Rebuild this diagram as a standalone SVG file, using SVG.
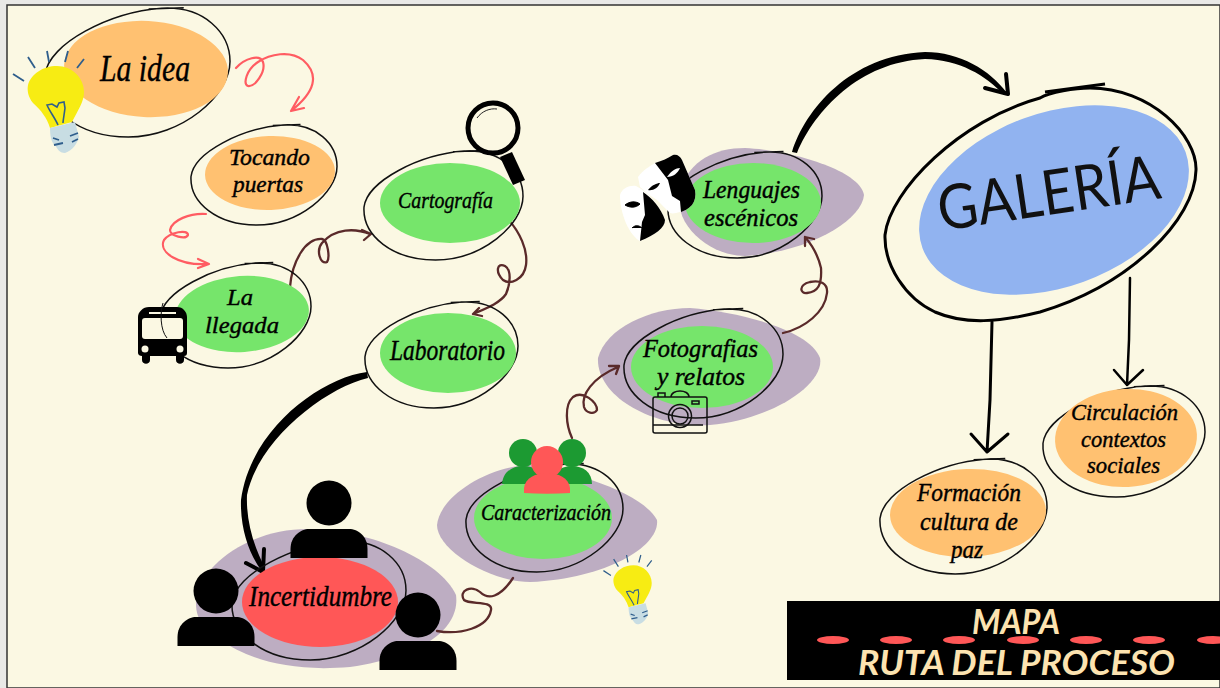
<svg xmlns="http://www.w3.org/2000/svg" width="1220" height="688" viewBox="0 0 1220 688">
<style>
.lbl{font-family:"Liberation Serif","DejaVu Serif",serif;font-style:italic;fill:#000;stroke:#000;stroke-width:.4}
.ban{font-family:"Lato","Liberation Sans",sans-serif;font-style:italic;font-weight:700;fill:#FCE3B0}
.out{fill:none;stroke:#111;stroke-width:1.5}
.pur{fill:#BDADC2}.grn{fill:#76E56B}.org{fill:#FFC171}.red{fill:#FF5757}
.pink{fill:none;stroke:#FF5C62;stroke-width:2.2;stroke-linecap:round;stroke-linejoin:round}
.brn{fill:none;stroke:#5A2A2A;stroke-width:2.3;stroke-linecap:round;stroke-linejoin:round}
.blk{fill:none;stroke:#000;stroke-linecap:round;stroke-linejoin:round}
</style>
<defs>
<path id="loop" vector-effect="non-scaling-stroke" d="M0 52C2 28 35 4 63 1C86 -1 100 20 100 42C100 68 74 100 45 100C18 100 -1 78 0 52ZM56 1.500L75 .5"/>
<g id="bulb">
<path d="M2 -60C17 -60 29 -48 29 -34C29 -24 23 -16 17 -4L-5 2C-8 -8 -14 -16 -22 -23C-27 -29 -28 -36 -27 -41C-24 -52 -12 -60 2 -60Z" fill="#F7EC13"/>
<path d="M-5 2L20 -4L24 11C22 18 18 24 10 27C4 27 2 22 0 19C-4 17 -5 8 -5 2Z" fill="#C8DDE3"/>
<path d="M3 -1C0 -8 -5 -14 -8 -21L-3 -22L2 -19L4 -23L9 -24L10 -18C9 -10 8 -5 8 -3" fill="none" stroke="#2F5E8C" stroke-width="1.600"/>
<path d="M-42 -52L-31 -45M-27 -69L-20 -58M-8 -75L-6 -64M13 -75L10 -64M29 -67L22 -58M-2 12L4 14M-1 19L8 17M15 10L23 7M17 16L23 13" fill="none" stroke="#2F5E8C" stroke-width="1.800"/>
</g>
<g id="person"><circle cx="0" cy="0" r="22.500"/><path d="M-38.500 55V46C-38.500 33 -28 26 -20 26H20C29 26 38.500 33 38.500 46V55Z"/></g>
</defs>

<rect width="1220" height="688" fill="#E9E9E7"/>
<rect x="7" y="5" width="1213" height="683" fill="#FBF8E3" stroke="#333" stroke-width="1.500"/>

<g id="blobs-back">
<path class="pur" d="M196 600C200 565 250 528 310 529C370 530 440 560 456 595C460 625 430 655 350 667C290 672 250 660 220 640C205 630 195 620 196 600Z"/>
<path class="pur" d="M437 525C440 495 490 466 530 465C570 472 640 490 657 520C660 545 610 578 530 582C490 582 437 550 437 525Z"/>
<path class="pur" d="M598 358C606 328 650 308 690 308C740 312 810 330 820 358C825 385 770 420 710 425C650 428 596 395 598 358Z"/>
<path class="pur" d="M680 190C690 160 715 148 745 148C790 150 860 170 864 195C862 220 810 252 745 256C710 256 672 225 680 190Z"/>
</g>

<g id="connectors">
<path class="pink" d="M236 68C245 58 260 54 263 62C266 72 255 87 248 86C243 84 246 70 258 62C270 54 290 50 303 60C320 75 315 92 291 111M299 97L291 111L304 108"/>
<path class="pink" d="M206 214C190 213 172 220 170 230C170 236 186 240 188 235C188 229 170 232 164 240C158 252 178 266 209 264M198 259L209 264L198 268"/>
<path class="brn" d="M290 287C292 262 305 238 322 239C328 240 330 258 327 262C320 265 316 250 322 243C335 228 355 228 370 234M362 230L371 234L364 240"/>
<path class="brn" d="M507 218C520 232 528 250 526 265C524 280 510 285 503 280C495 272 497 262 505 266C512 270 510 285 506 294C500 303 487 308 473 314M479 308L473 314L482 316"/>
<path class="brn" d="M437 631C460 635 488 628 491 610C493 600 470 605 464 600C458 590 472 585 480 592C488 600 500 598 513 578"/>
<path class="brn" d="M572 438C566 425 564 405 573 397C583 390 597 402 597 410C594 415 586 413 584 407C581 395 592 378 618 367M609 366L619 366L616 374"/>
<path class="brn" d="M783 333C805 328 825 312 827 293C828 283 820 280 810 282C798 285 800 294 807 293C818 292 822 285 821 268C818 255 812 245 805 237M805 246L805 237L814 239"/>
<path d="M367 372C320 378 250 430 241 500C240 530 250 555 261 570L265 568C253 545 246 520 247 495C258 440 325 388 368 378Z"/>
<path class="blk" stroke-width="4" d="M246 563L263 572L264 549"/>
<path d="M792 152C805 110 850 55 925 52C960 52 990 70 1007 93L1004 95C985 75 960 60 925 59C860 62 815 110 797 153Z"/>
<path class="blk" stroke-width="4" d="M985 88L1008 94L1006 74"/>
<path class="blk" stroke-width="3" d="M992 322L990 400L987 452M971 434L987 452L1008 434"/>
<path class="blk" stroke-width="2.500" d="M1130 278L1129 340L1127 385M1114 370L1127 385L1143 370"/>
</g>

<g id="la-idea"><use href="#loop" class="out" transform="translate(45 7) scale(1.850 1.300)"/><ellipse class="org" cx="146" cy="69" rx="82" ry="48" transform="rotate(3 146 69)"/>
<text class="lbl" x="100" y="81" font-size="38" textLength="90" lengthAdjust="spacingAndGlyphs">La idea</text></g>
<g id="tocando-puertas"><use href="#loop" class="out" transform="translate(191 124) scale(1.460 1.010)"/><ellipse class="org" cx="270" cy="173" rx="65" ry="37" transform="rotate(-2 270 173)"/>
<text class="lbl" x="229" y="165" font-size="23" textLength="81" lengthAdjust="spacingAndGlyphs">Tocando</text><text class="lbl" x="233" y="192" font-size="23" textLength="70" lengthAdjust="spacingAndGlyphs">puertas</text></g>
<g id="la-llegada"><use href="#loop" class="out" transform="translate(160 262) scale(1.510 1.060)"/><ellipse class="grn" cx="242" cy="314" rx="67" ry="38" transform="rotate(-4 242 314)"/>
<text class="lbl" x="227" y="305" font-size="24" textLength="26" lengthAdjust="spacingAndGlyphs">La</text><text class="lbl" x="205" y="333" font-size="24" textLength="74" lengthAdjust="spacingAndGlyphs">llegada</text></g>
<g id="cartografia"><use href="#loop" class="out" transform="translate(364 150) scale(1.590 1.100)"/><ellipse class="grn" cx="450" cy="203" rx="70" ry="40"/>
<text class="lbl" x="398" y="208" font-size="24" textLength="95" lengthAdjust="spacingAndGlyphs">Cartografía</text></g>
<g id="laboratorio"><use href="#loop" class="out" transform="translate(365 301) scale(1.530 1.070)"/><ellipse class="grn" cx="448" cy="353" rx="68" ry="40"/>
<text class="lbl" x="390" y="360" font-size="29" textLength="115" lengthAdjust="spacingAndGlyphs">Laboratorio</text></g>
<g id="incertidumbre"><use href="#loop" class="out" transform="translate(232 540) scale(1.740 1.200)"/><ellipse class="red" cx="320" cy="602" rx="78" ry="45"/>
<text class="lbl" x="249" y="606" font-size="30" textLength="143" lengthAdjust="spacingAndGlyphs">Incertidumbre</text></g>
<g id="caracterizacion"><use href="#loop" class="out" transform="translate(466 463) scale(1.570 1.090)"/><ellipse class="grn" cx="543" cy="518" rx="69" ry="41"/>
<text class="lbl" x="481" y="520" font-size="24" textLength="130" lengthAdjust="spacingAndGlyphs">Caracterización</text></g>
<g id="fotografias"><ellipse class="grn" cx="702" cy="367" rx="71" ry="41"/><use href="#loop" class="out" transform="translate(624 308) scale(1.590 1.100)"/>
<text class="lbl" x="643" y="357" font-size="25" textLength="115" lengthAdjust="spacingAndGlyphs">Fotografias</text><text class="lbl" x="657" y="385" font-size="25" textLength="88" lengthAdjust="spacingAndGlyphs">y relatos</text></g>
<g id="lenguajes"><use href="#loop" class="out" transform="translate(668 151) scale(1.540 1.070)"/><ellipse class="grn" cx="753" cy="203" rx="68" ry="40"/>
<text class="lbl" x="703" y="198" font-size="24.500" textLength="97" lengthAdjust="spacingAndGlyphs">Lenguajes</text><text class="lbl" x="704" y="226" font-size="24.500" textLength="94" lengthAdjust="spacingAndGlyphs">escénicos</text></g>
<g id="galeria"><path d="M885 235C890 190 960 120 1040 98C1050 92 1075 88 1090 88C1150 88 1197 135 1196 170C1195 220 1130 285 1040 312C1000 322 965 325 935 312C905 298 884 265 885 235Z" fill="none" stroke="#000" stroke-width="3"/><path d="M1045 92L1105 84" fill="none" stroke="#000" stroke-width="3"/>
<ellipse cx="1054" cy="200" rx="140" ry="87" fill="#91B3F0" transform="rotate(-20 1054 200)"/>
<text x="941" y="231" font-family="Lato,'Liberation Sans',sans-serif" font-size="62" fill="#111" textLength="224" lengthAdjust="spacingAndGlyphs" transform="rotate(-8.500 941 231)">GALERÍA</text></g>
<g id="formacion"><use href="#loop" class="out" transform="translate(880 458) scale(1.670 1.160)"/><ellipse class="org" cx="968" cy="513" rx="78" ry="44" transform="rotate(-2 968 513)"/>
<text class="lbl" x="917" y="501" font-size="24.500" textLength="104" lengthAdjust="spacingAndGlyphs">Formación</text><text class="lbl" x="920" y="530" font-size="24.500" textLength="98" lengthAdjust="spacingAndGlyphs">cultura de</text><text class="lbl" x="951" y="558" font-size="24.500" textLength="32" lengthAdjust="spacingAndGlyphs">paz</text></g>
<g id="circulacion"><use href="#loop" class="out" transform="translate(1043 385) scale(1.620 1.120)"/><ellipse class="org" cx="1126" cy="438" rx="71" ry="49" transform="rotate(-3 1126 438)"/>
<text class="lbl" x="1071" y="420" font-size="23" textLength="107" lengthAdjust="spacingAndGlyphs">Circulación</text><text class="lbl" x="1081" y="447" font-size="23" textLength="85" lengthAdjust="spacingAndGlyphs">contextos</text><text class="lbl" x="1087" y="473" font-size="23" textLength="73" lengthAdjust="spacingAndGlyphs">sociales</text></g>

<g id="icons">
<use href="#bulb" transform="translate(55 126)"/>
<use href="#bulb" transform="translate(632 606) scale(.68)"/>
<g id="bus"><path d="M149 307H177C183 307 187 312 187 317V353C187 355 186 356 184 356V360C184 365 176 365 176 360V356H150V360C150 365 142 365 142 360V356C140 356 138 355 138 353V317C138 312 143 307 149 307Z"/>
<rect x="142" y="318" width="41" height="21" rx="3" fill="#FBF8E3"/><path d="M149 313H176" stroke="#FBF8E3" stroke-width="2"/>
<circle cx="145" cy="349" r="3.500" fill="#FBF8E3"/><circle cx="180" cy="349" r="3.500" fill="#FBF8E3"/>
<path d="M163 303C160 312 160 330 167 338" fill="none" stroke="#111" stroke-width="1"/></g>
<g id="lupa"><circle cx="493" cy="128" r="25" fill="#FBF8E3" stroke="#000" stroke-width="5"/><path d="M500 157L512 152L525 180L513 185Z"/><path d="M477 118C482 111 490 108 497 109" fill="none" stroke="#222" stroke-width="1"/></g>
<g id="mascaras">
<path d="M620 195C622 188 630 185 636 186C645 190 660 205 665 220C665 228 655 235 640 241C630 236 620 215 620 195Z" fill="#fff"/>
<path d="M643 192C652 198 661 208 665 220C665 228 655 235 640 241L642 222L645 215Z"/>
<path d="M625 205C630 201 636 201 640 204C636 208 630 208 625 205ZM632 228C636 224 640 226 642 228" fill="#000" stroke="#000"/>
<path d="M638 177C643 170 650 166 655 163C662 161 668 158 673 155C677 154 680 156 682 160L695 190C696 196 695 201 692 205C688 209 684 211 680 212C676 213 673 214 670 213C665 208 661 204 657 200C651 196 645 192 640 187Z" fill="#fff"/>
<path d="M655 163C662 161 668 158 673 155C677 154 680 156 682 160L695 190C696 196 695 201 692 205C688 209 684 211 681 212L680 201L672 196L668 180Z"/>
<path d="M648 190C652 185 657 183 660 183C658 188 653 191 648 190Z"/><path d="M667 177C671 171 676 168 680 168C678 173 673 177 667 177Z" fill="#fff"/>
</g>
<g id="camara" fill="none" stroke="#111" stroke-width="1.500">
<rect x="653" y="397" width="54" height="36" rx="2"/><path d="M671 397C671 389 689 389 689 397M658 397V393H665V397M653 425H703M692 401H699V404H692Z"/>
<circle cx="680" cy="416" r="11.500"/><circle cx="680" cy="416" r="8"/>
</g>
<use href="#person" transform="translate(329 503)"/>
<use href="#person" transform="translate(216 591)"/>
<use href="#person" transform="translate(418 615)"/>
<g id="grupo">
<circle cx="523" cy="453" r="14" fill="#1C9A32"/><path d="M502 484C503 472 512 466 523 466C535 466 545 472 546 484Z" fill="#1C9A32"/>
<circle cx="572" cy="453" r="14" fill="#1C9A32"/><path d="M550 484C551 472 561 466 572 466C583 466 592 472 592 484Z" fill="#1C9A32"/>
<circle cx="547" cy="462" r="16" fill="#FF5757"/><path d="M524 493V488C525 478 536 473 547 473C558 473 569 478 570 488V493C555 494 539 494 524 493Z" fill="#FF5757"/>
</g>
</g>

<g id="banner">
<rect x="787" y="601" width="433" height="79" fill="#000"/>
<g fill="#FF5757"><ellipse cx="833" cy="640" rx="16" ry="4"/><ellipse cx="896" cy="640" rx="16" ry="4"/><ellipse cx="959" cy="640" rx="16" ry="4"/><ellipse cx="1023" cy="640" rx="16" ry="4"/><ellipse cx="1086" cy="640" rx="16" ry="4"/><ellipse cx="1149" cy="640" rx="16" ry="4"/><ellipse cx="1213" cy="640" rx="16" ry="4"/></g>
<text class="ban" x="972" y="634" font-size="34" textLength="88" lengthAdjust="spacingAndGlyphs">MAPA</text>
<text class="ban" x="858" y="675" font-size="34" textLength="317" lengthAdjust="spacingAndGlyphs">RUTA DEL PROCESO</text>
</g>
</svg>
